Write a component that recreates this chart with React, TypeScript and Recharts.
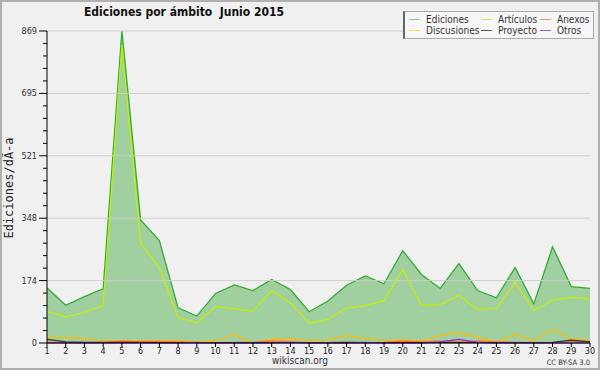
import React from 'react';
import { ComposedChart, Area, Line, XAxis, YAxis, ReferenceLine } from 'recharts';

const days = [1, 2, 3, 4, 5, 6, 7, 8, 9, 10, 11, 12, 13, 14, 15, 16, 17, 18, 19, 20, 21, 22, 23, 24, 25, 26, 27, 28, 29, 30];
const ediciones = [154, 105, 129, 151, 869, 343, 285, 98, 75, 138, 162, 146, 177, 149, 87, 117, 161, 187, 165, 257, 191, 152, 221, 146, 126, 210, 109, 268, 157, 152];
const articulos = [88, 73, 85, 104, 830, 278, 210, 71, 56, 101, 95, 89, 146, 112, 56, 65, 98, 104, 118, 205, 104, 107, 133, 93, 96, 168, 91, 119, 127, 123];
const discusiones = [15, 15, 13, 5, 7, 7, 6, 7, 3, 5, 24, 0, 10, 12, 7, 8, 21, 12, 7, 8, 5, 21, 28, 17, 2, 24, 6, 38, 12, 7];
const anexos = [2, 1, 1, 2, 5, 3, 4, 3, 1, 1, 2, 2, 6, 3, 1, 1, 2, 1, 2, 5, 3, 5, 3, 5, 3, 2, 1, 1, 4, 4];
const proyecto = [10, 3, 2, 2, 2, 2, 1, 1, 1, 1, 1, 1, 1, 1, 1, 1, 2, 1, 1, 1, 1, 1, 1, 1, 1, 1, 1, 2, 8, 3];
const otros = [0, 0, 0, 0, 0, 0, 0, 0, 2, 0, 0, 0, 0, 2, 0, 0, 0, 2, 0, 0, 0, 3, 10, 2, 0, 0, 0, 0, 0, 0];

const yMax = 869;
const yTickLabels = ['0', '174', '348', '521', '695', '869'];
const majorValues = yTickLabels.map((_, i) => (i * yMax) / 5);
const minorTicks = Array.from({ length: 26 }, (_, i) => (i * yMax) / 25);

const colors = {
  ediciones: '#33aa33',
  edicionesFill: '#99cc99',
  articulos: '#c4f000',
  discusiones: '#ffbb00',
  anexos: '#ff6a30',
  proyecto: '#333333',
  otros: '#8a2be2',
};

const legendItems = [
  { name: 'Ediciones', color: '#88cc88', x: 4, row: 0 },
  { name: 'Artículos', color: '#ccee55', x: 76, row: 0 },
  { name: 'Anexos', color: '#ff8855', x: 135, row: 0 },
  { name: 'Discusiones', color: '#ffdd55', x: 4, row: 1 },
  { name: 'Proyecto', color: '#555555', x: 76, row: 1 },
  { name: 'Otros', color: '#9955ee', x: 135, row: 1 },
];

const data = days.map((d, i) => ({
  day: d,
  ediciones: ediciones[i],
  articulos: articulos[i],
  discusiones: discusiones[i],
  anexos: anexos[i],
  proyecto: proyecto[i],
  otros: otros[i],
}));

const condensed = '"DejaVu Sans Condensed", "DejaVu Sans", sans-serif';

const YTick = (props: any) => {
  const { x, y, payload } = props;
  const idx = Math.round(payload.value / (yMax / 25));
  const major = idx % 5 === 0;
  return (
    <g>
      <line x1={x} x2={x - (major ? 8 : 4)} y1={y} y2={y} stroke="#000" strokeWidth={1} />
      {major && (
        <text x={x - 10} y={y} dy={3} textAnchor="end" fontSize={9} fill="#333" fontFamily={condensed}>
          {yTickLabels[idx / 5]}
        </text>
      )}
    </g>
  );
};

const LegendBox = () => (
  <div
    style={{
      position: 'absolute',
      left: 403,
      top: 11,
      width: 188,
      height: 26,
      background: '#f7f7f7',
      border: '1px solid #aaaaaa',
      borderLeft: '2px solid #666666',
      fontFamily: condensed,
      fontSize: 10,
      color: '#333',
    }}
  >
    {legendItems.map((it) => (
      <div key={it.name} style={{ position: 'absolute', left: it.x, top: 2 + it.row * 11, height: 11, display: 'flex', alignItems: 'center', whiteSpace: 'nowrap' }}>
        <div style={{ width: 11, height: 1, background: it.color, marginRight: 6 }} />
        <span style={{ lineHeight: '11px' }}>{it.name}</span>
      </div>
    ))}
  </div>
);

export default function App() {
  return (
    <div style={{ position: 'absolute', left: 0, top: 0, width: 600, height: 370, background: '#f0f0f0', overflow: 'hidden' }}>
      <ComposedChart width={600} height={370} data={data} margin={{ top: 31, right: 10, bottom: 7, left: 7 }}>
        {majorValues.slice(1).map((v) => (
          <ReferenceLine key={v} y={v} stroke="#cfcfcf" strokeWidth={1} />
        ))}
        <XAxis
          dataKey="day"
          type="number"
          domain={[1, 30]}
          ticks={days}
          interval={0}
          height={20}
          tickSize={4}
          tickMargin={1}
          axisLine={{ stroke: '#000' }}
          tickLine={{ stroke: '#000' }}
          tick={{ fontSize: 9, fill: '#222', fontFamily: condensed }}
        />
        <YAxis
          type="number"
          domain={[0, yMax]}
          ticks={minorTicks}
          interval={0}
          width={40}
          tickSize={0}
          tickMargin={0}
          tickLine={false}
          axisLine={{ stroke: '#000' }}
          tick={<YTick />}
        />
        <Area
          type="linear"
          dataKey="ediciones"
          stroke={colors.ediciones}
          strokeWidth={1.3}
          fill={colors.edicionesFill}
          fillOpacity={0.92}
          dot={false}
          activeDot={false}
          isAnimationActive={false}
        />
        <Line type="linear" dataKey="articulos" stroke={colors.articulos} strokeWidth={1.2} dot={false} activeDot={false} isAnimationActive={false} />
        <Line type="linear" dataKey="discusiones" stroke={colors.discusiones} strokeWidth={1.2} dot={false} activeDot={false} isAnimationActive={false} />
        <Line type="linear" dataKey="anexos" stroke={colors.anexos} strokeWidth={1.2} dot={false} activeDot={false} isAnimationActive={false} />
        <Line type="linear" dataKey="proyecto" stroke={colors.proyecto} strokeWidth={1.2} dot={false} activeDot={false} isAnimationActive={false} />
        <Line type="linear" dataKey="otros" stroke={colors.otros} strokeWidth={1.2} dot={false} activeDot={false} isAnimationActive={false} />
      </ComposedChart>
      <LegendBox />
      <div
        style={{
          position: 'absolute',
          left: 0,
          top: 5,
          width: 368,
          textAlign: 'center',
          fontFamily: '"DejaVu Sans Condensed", "DejaVu Sans", sans-serif',
          fontWeight: 'bold',
          fontSize: 12,
          whiteSpace: 'pre',
          color: '#111',
        }}
      >
        {'Ediciones por ámbito  Junio 2015'}
      </div>
      <div
        style={{
          position: 'absolute',
          left: 9,
          top: 188,
          transform: 'translate(-50%, -50%) rotate(-90deg)',
          whiteSpace: 'nowrap',
          fontFamily: '"DejaVu Sans Mono", monospace',
          fontSize: 12,
          color: '#222',
        }}
      >
        Ediciones/dÃ-a
      </div>
      <div style={{ position: 'absolute', left: 0, top: 355, width: 600, textAlign: 'center', fontFamily: condensed, fontSize: 10, color: '#333' }}>
        wikiscan.org
      </div>
      <div style={{ position: 'absolute', right: 10, top: 358, fontFamily: condensed, fontSize: 7.5, color: '#333' }}>
        CC BY-SA 3.0
      </div>
      <div style={{ position: 'absolute', left: 0, top: 0, width: 600, height: 370, boxSizing: 'border-box', border: '2px solid #b0b0b0', pointerEvents: 'none' }} />
    </div>
  );
}
